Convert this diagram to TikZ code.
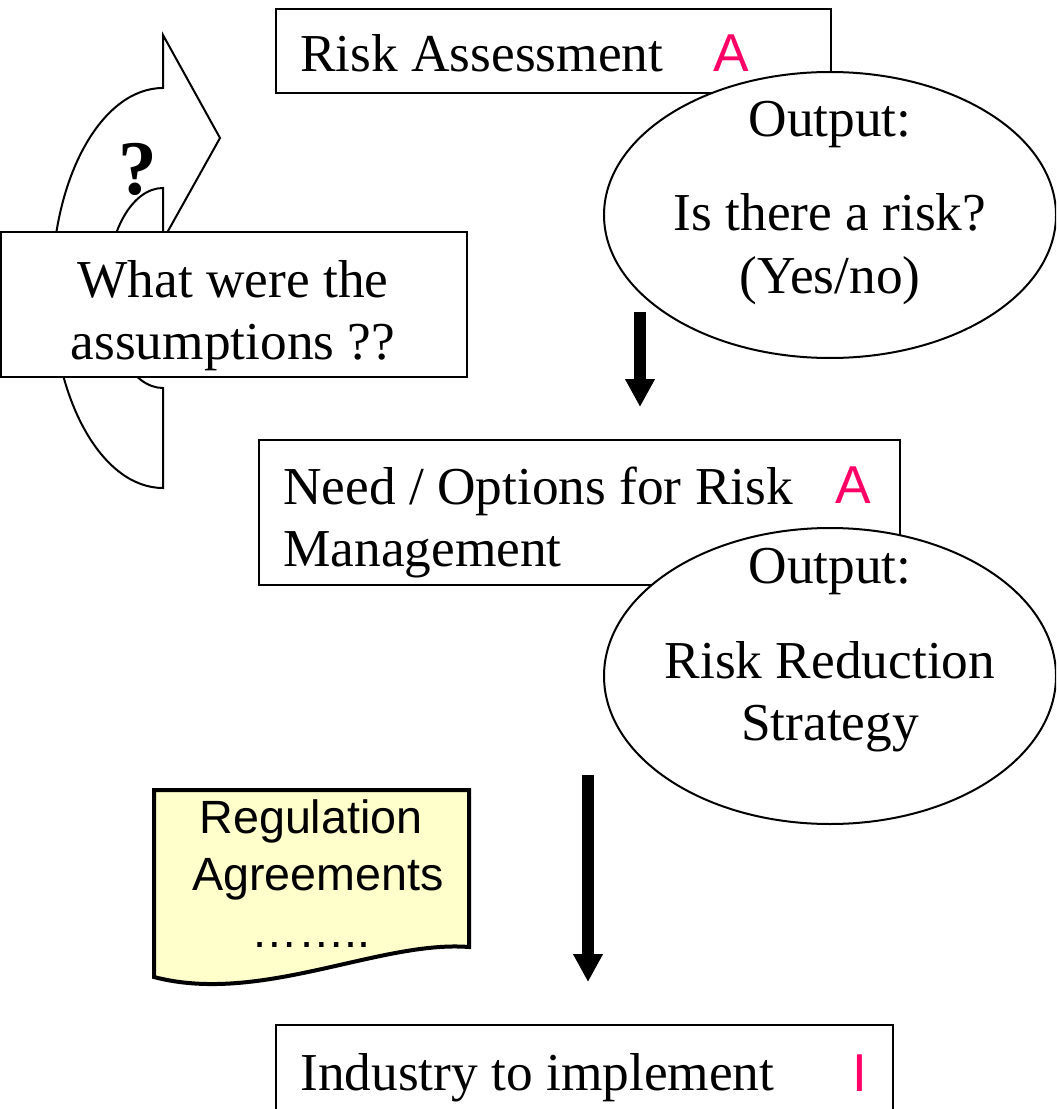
\documentclass[tikz,border=0pt]{standalone}
\usepackage{fontspec}
\setmainfont{Liberation Serif}
\newfontfamily\sansf{Liberation Sans}
\usetikzlibrary{shapes.geometric,arrows.meta}
\definecolor{pinkA}{RGB}{255,0,102}
\definecolor{docyellow}{RGB}{255,255,204}
\begin{document}
\begin{tikzpicture}[x=0.75pt,y=0.75pt,
  box/.style={draw,line width=1.5pt,fill=white,inner sep=0pt,rectangle},
  ell/.style={draw,line width=1.5pt,fill=white,inner sep=0pt,ellipse,minimum width=339pt,minimum height=214.5pt},
  txt/.style={inner sep=0pt,font=\fontsize{40}{48}\selectfont},
  pinkmark/.style={inner sep=0pt,text=pinkA,font=\sansf\fontsize{40}{48}\selectfont},
  doctxt/.style={inner sep=0pt,font=\sansf\fontsize{35}{42}\selectfont},
  bigarrow/.style={line width=9pt,-{Triangle[width=21pt,length=21pt]}}]
\clip (0,0) rectangle (1056,-1109);
% curved arrow
\draw[line width=1.5pt,fill=white,line join=miter]
  (163,-488) arc[start angle=-90,end angle=-270,x radius=111,y radius=200]
  -- (163,-35) -- (220,-138) -- (163,-240) -- (163,-188)
  arc[start angle=90,end angle=270,x radius=56,y radius=100] -- cycle;
\node[inner sep=0pt,anchor=base,font=\bfseries\fontsize{58}{64}\selectfont] (qm) at (138,-195) {?};
% what box
\node[box,minimum width=349.5pt,minimum height=108.75pt] (what) at (234,-304.5) {};
\node[txt,anchor=base] (w1) at (233,-297) {What were the};
\node[txt,anchor=base] (w2) at (233,-359) {assumptions ??};
% risk assessment
\node[box,minimum width=416.25pt,minimum height=63pt] (ra) at (553.5,-51) {};
\node[txt,anchor=base west] (ratxt) at (300,-72) {Risk Assessment};
\node[pinkmark,anchor=base west] (raA) at (713,-72) {A};
\node[ell] (e1) at (830,-215) {};
\node[txt,anchor=base] (e1a) at (830,-137) {Output:};
\node[txt,anchor=base] (e1b) at (830,-231) {Is there a risk?};
\node[txt,anchor=base] (e1c) at (830,-293) {(Yes/no)};
% arrow 1
\coordinate (a1s) at (640,-312);
\coordinate (a1e) at (640,-407);
\draw[bigarrow] (a1s) -- (a1e);
% need box
\node[box,minimum width=480.75pt,minimum height=108.75pt] (need) at (579.5,-512.5) {};
\node[txt,anchor=base west] (n1) at (283,-504) {Need / Options for Risk};
\node[txt,anchor=base west] (n2) at (283,-566) {Management};
\node[pinkmark,anchor=base west] (nA) at (835,-503) {A};
\node[ell,minimum height=222pt] (e2) at (830,-676) {};
\node[txt,anchor=base] (e2a) at (830,-583) {Output:};
\node[txt,anchor=base] (e2b) at (830,-678) {Risk Reduction};
\node[txt,anchor=base] (e2c) at (830,-740) {Strategy};
% arrow 2
\coordinate (a2s) at (588,-775);
\coordinate (a2e) at (588,-982);
\draw[bigarrow] (a2s) -- (a2e);
% document
\draw[line width=3pt,fill=docyellow,line join=miter]
  (154,-790) -- (469,-790) -- (469,-947)
  .. controls (380,-940) and (260,-1005) .. (154,-977) -- cycle;
\node[doctxt,anchor=base] (d1) at (311,-833) {Regulation};
\node[doctxt,anchor=base] (d2) at (318,-890) {Agreements};
\node[doctxt,anchor=base] (d3) at (311,-947) {……..};
% industry box
\node[box,minimum width=462.75pt,minimum height=67.5pt] (ind) at (584.5,-1070) {};
\node[txt,anchor=base west] (indtxt) at (300,-1090) {Industry to implement};
\node[pinkmark,anchor=base west] (indI) at (852,-1091) {I};
\end{tikzpicture}
\end{document}
